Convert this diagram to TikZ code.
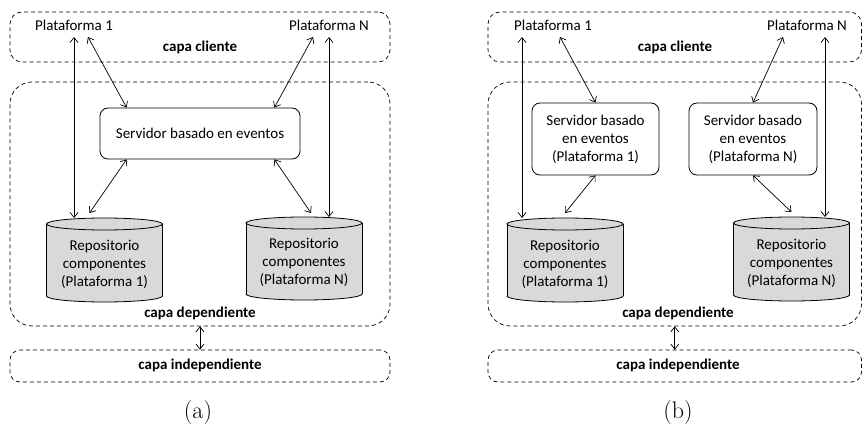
\documentclass[tikz,border=0pt]{standalone}
\usepackage{fontspec}
\usetikzlibrary{arrows.meta,calc}
\newfontfamily\calfont{Carlito}
\definecolor{drumgray}{HTML}{D9D9D9}

% a storage drum: #1 name, #2 centre x, #3 top rim centre y, #4 bottom rim centre y
\newcommand\drum[4]{%
  \fill[drumgray] (#2-58,#3) rectangle (#2+58,#4);
  \fill[drumgray] (#2,#4) ellipse[x radius=58, y radius=6];
  \begin{scope}
    \clip (#2-60,#4) rectangle (#2+60,#4+9);
    \draw[thin line] (#2,#4) ellipse[x radius=58, y radius=6];
  \end{scope}
  \draw[thin line] (#2-58,#3) -- (#2-58,#4) (#2+58,#3) -- (#2+58,#4);
  \draw[thin line, fill=drumgray] (#2,#3) ellipse[x radius=58, y radius=6];
  \coordinate (#1t) at (#2,#3-6);
  \node[txt, align=center] (#1) at (#2,{(#3+#4)/2+4}) {Repositorio\\componentes\\(Plataforma~\csname drumtag\endcsname)};
}

\begin{document}
\begin{tikzpicture}[x=1pt, y=-1pt,
  thin line/.style={line width=0.8pt, draw=black},
  txt/.style={font=\calfont\fontsize{15}{18}\selectfont, inner sep=0pt},
  bold txt/.style={txt, font=\calfont\fontsize{15}{18}\selectfont\bfseries},
  captxt/.style={font=\fontsize{24}{28}\selectfont, inner sep=0pt},
  layer/.style={draw, line width=0.7pt, dash pattern=on 4pt off 3pt, inner sep=0pt},
  server/.style={draw, line width=0.8pt, rounded corners=8pt, inner sep=0pt, txt, align=center},
  link/.style={line width=0.7pt, {Straight Barb[length=5pt,width=8pt]}-{Straight Barb[length=5pt,width=8pt]}}
]
\useasboundingbox (0,0) rectangle (863,425);

% ---------------- (a) one shared event server ----------------
\node[layer, rounded corners=12pt, minimum width=380pt, minimum height=50pt] (cliA) at (200,37) {};
\node[layer, rounded corners=22pt, minimum width=380pt, minimum height=244pt] (depA) at (200,204) {};
\node[layer, rounded corners=10pt, minimum width=380pt, minimum height=32pt] (indA) at (200,366) {};

\node[txt, anchor=base] (p1A) at (74,31) {Plataforma 1};
\node[txt, anchor=base] (pNA) at (329,31) {Plataforma N};
\node[bold txt, anchor=base] (lcA) at (200,52) {capa cliente};
\node[bold txt, anchor=base] (ldA) at (200,317) {capa dependiente};
\node[bold txt, anchor=base] (liA) at (200,369.5) {capa independiente};

\node[server, minimum width=200pt, minimum height=51pt] (sA) at (200,133.5) {Servidor basado en eventos};

\def\drumtag{1}\drum{r1A}{104.5}{224}{296}
\def\drumtag{N}\drum{rNA}{304}{223}{294}

\draw[link] ($(p1A.base)+(0,6)$) -- (p1A.base |- r1At);
\draw[link] ($(p1A.base)+(14,6)$) -- ($(sA.north west)+(27,0)$);
\draw[link] ($(pNA.base)+(-16,6)$) -- ($(sA.north east)+(-26,0)$);
\draw[link] ($(pNA.base)+(0,6)$) -- (pNA.base |- rNAt);
\draw[link] ($(sA.south west)+(27,0)$) -- ($(r1At)+(-15,-5)$);
\draw[link] ($(sA.south east)+(-26,0)$) -- ($(rNAt)+(7,-4)$);
\draw[link] (depA.south) -- (indA.north);

\node[captxt, anchor=base] (capA) at (198,418) {(a)};

% ---------------- (b) one event server per platform ----------------
\node[layer, rounded corners=12pt, minimum width=373.5pt, minimum height=50pt] (cliB) at (674.75,37) {};
\node[layer, rounded corners=22pt, minimum width=373.5pt, minimum height=244pt] (depB) at (674.75,204) {};
\node[layer, rounded corners=10pt, minimum width=373.5pt, minimum height=32pt] (indB) at (674.75,366) {};

\node[txt, anchor=base] (p1B) at (553,31) {Plataforma 1};
\node[txt, anchor=base] (pNB) at (807,31) {Plataforma N};
\node[bold txt, anchor=base] (lcB) at (675,52) {capa cliente};
\node[bold txt, anchor=base] (ldB) at (678,317) {capa dependiente};
\node[bold txt, anchor=base] (liB) at (678,369.5) {capa independiente};

\node[server, minimum width=127pt, minimum height=72pt] (s1B) at (595.5,139) {Servidor basado\\en eventos\\(Plataforma 1)};
\node[server, minimum width=128pt, minimum height=72pt] (sNB) at (753,139) {Servidor basado\\en eventos\\(Plataforma N)};

\def\drumtag{1}\drum{r1B}{565}{224}{296}
\def\drumtag{N}\drum{rNB}{791.5}{223}{295}

\coordinate (v1B) at (522,37);
\coordinate (vNB) at (825,37);
\draw[link] (v1B) -- (v1B |- r1Bt);
\draw[link] ($(p1B.base)+(7,6)$) -- (s1B.north);
\draw[link] ($(pNB.base)+(-24,6)$) -- (sNB.north);
\draw[link] (vNB) -- (vNB |- rNBt);
\draw[link] (s1B.south) -- ($(r1Bt)+(0,-5)$);
\draw[link] (sNB.south) -- ($(rNBt)+(0,-5)$);
\draw[link] (depB.south) -- (indB.north);

\node[captxt, anchor=base] (capB) at (678,418) {(b)};
\end{tikzpicture}
\end{document}
